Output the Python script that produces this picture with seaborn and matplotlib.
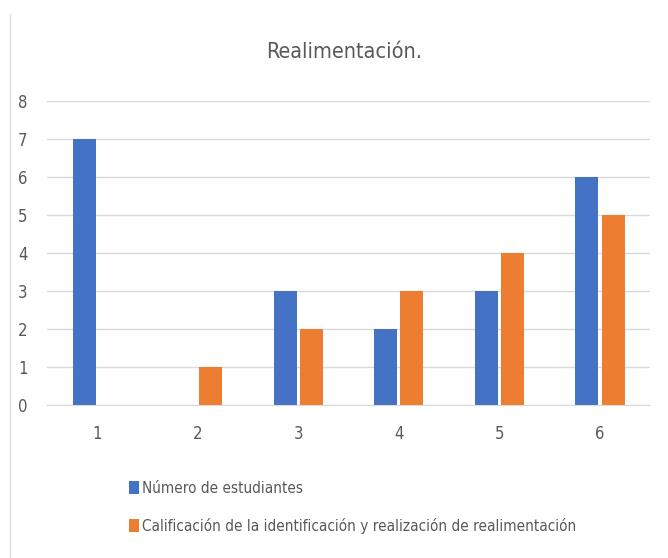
import pandas as pd
import matplotlib.pyplot as plt
import seaborn as sns
from matplotlib.lines import Line2D
from matplotlib.patches import Patch

# datos del gráfico
categorias = ['1', '2', '3', '4', '5', '6']
num_estudiantes = [7, 0, 3, 2, 3, 6]
calificacion = [0, 1, 2, 3, 4, 5]
series = ['Número de estudiantes',
          'Calificación de la identificación y realización de realimentación']
colores = ['#4472C4', '#ED7D31']

df = pd.DataFrame({
    'categoria': categorias * 2,
    'valor': num_estudiantes + calificacion,
    'serie': [series[0]] * len(categorias) + [series[1]] * len(categorias),
})

sns.set_style('white')
plt.rcParams['font.family'] = ['DejaVu Sans']
plt.rcParams['font.stretch'] = 'condensed'

fig = plt.figure(figsize=(6.68, 5.58), dpi=100)
ax = fig.add_axes([0.0704, 0.274, 0.903, 0.545])

sns.barplot(data=df, x='categoria', y='valor', hue='serie', palette=colores,
            saturation=1, width=0.52, gap=0.12, linewidth=0, ax=ax, legend=False)

ax.set_ylim(0, 8)
ax.set_xlim(-0.5, 5.5)
ax.set_yticks(range(0, 9))
ax.yaxis.grid(True, color='#D9D9D9', linewidth=1)
ax.set_axisbelow(True)
for s in ['top', 'right', 'left']:
    ax.spines[s].set_visible(False)
ax.spines['bottom'].set_color('#D9D9D9')
ax.tick_params(axis='both', length=0, labelsize=12, colors='#595959')
ax.tick_params(axis='x', pad=14)
ax.tick_params(axis='y', pad=14)
ax.set_xlabel('')
ax.set_ylabel('')

fig.text(0.515, 0.907, 'Realimentación.', ha='center', va='center',
         fontsize=15.5, color='#595959')

handles = [Patch(facecolor=c, edgecolor='none') for c in colores]
fig.legend(handles, series, loc='upper left', bbox_to_anchor=(0.172, 0.163),
           bbox_transform=fig.transFigure, frameon=False, fontsize=11,
           labelcolor='#595959', handlelength=0.7, handleheight=0.9,
           handletextpad=0.2, labelspacing=1.45)

# borde izquierdo tenue
fig.add_artist(Line2D([0.015, 0.015], [0, 0.975], color='#E0E0E0', linewidth=1))

fig.savefig('out.png', dpi=100)
